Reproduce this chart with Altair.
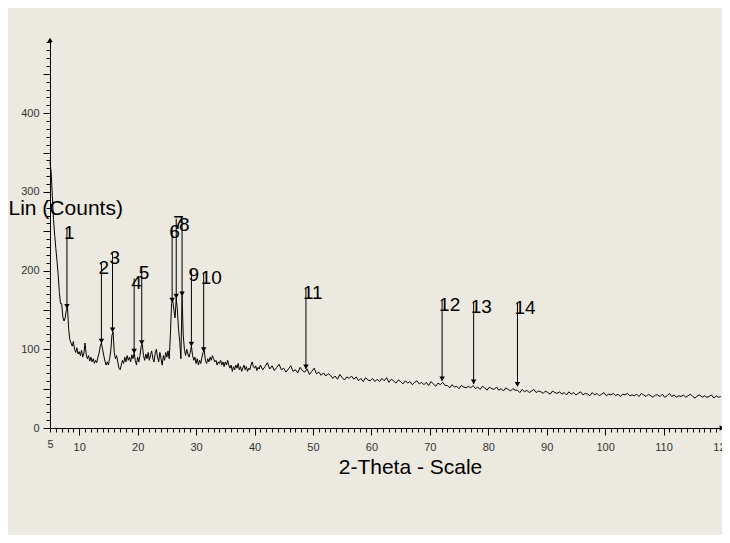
import altair as alt
import pandas as pd

# ---- diffractogram, first part: 2-theta from 5.0 deg, step 0.2 deg ----
scan_a_start = 5.0
scan_a_step = 0.2
counts_a = [
    338, 325, 295, 265, 245, 228, 212, 195, 172, 158,   # 5.0
    158, 141, 136, 140, 150, 153, 125, 112, 108, 104,   # 7.0
    110, 100, 96, 102, 94, 97, 92, 99, 90, 95,          # 9.0
    108, 93, 88, 92, 85, 90, 84, 88, 82, 86,            # 11.0
    83, 90, 95, 104, 108, 100, 92, 85, 80, 84,          # 13.0
    80, 88, 98, 118, 122, 96, 88, 92, 84, 76,           # 15.0
    74, 80, 86, 82, 90, 84, 92, 86, 90, 84,             # 17.0
    93, 88, 95, 86, 80, 90, 84, 92, 104, 106,           # 19.0
    92, 86, 94, 88, 96, 86, 93, 98, 88, 84,             # 21.0
    95, 100, 90, 84, 96, 88, 80, 92, 86, 96,            # 23.0
    90, 98, 88, 118, 158, 162, 150, 140, 165, 150,      # 25.0
    125, 110, 88, 168, 118, 100, 92, 100, 94, 90,       # 27.0
    96, 104, 92, 86, 90, 82, 88, 80, 86, 82,            # 29.0
    90, 96, 98, 86, 82, 88, 84, 90, 86, 92,             # 31.0
    88, 84, 86, 80, 84, 82, 86, 80, 84, 78,             # 33.0
    84, 80, 86, 80, 76, 80, 72, 78, 74, 80,             # 35.0
    76, 82, 74, 78, 72, 76, 80, 74, 78, 72,             # 37.0
    76, 74, 80, 84, 78, 76, 79, 73, 77, 75,             # 39.0
]

# ---- second part: 2-theta from 41.0 deg, step 0.4 deg ----
scan_b_start = 41.0
scan_b_step = 0.4
counts_b = [
    80, 74, 78, 83, 75, 79, 73, 77, 81, 74,   # 41
    76, 71, 75, 79, 72, 74, 70, 77, 73, 71,   # 45
    75, 68, 72, 76, 69, 71, 67, 70, 66, 69,   # 49
    67, 63, 66, 62, 68, 64, 61, 65, 63, 66,   # 53
    62, 65, 60, 63, 59, 64, 61, 60, 63, 59,   # 57
    62, 59, 63, 60, 64, 58, 62, 60, 57, 61,   # 61
    59, 56, 60, 57, 59, 55, 58, 60, 56, 58,   # 65
    55, 58, 54, 59, 56, 53, 57, 55, 58, 54,   # 69
    54, 51, 55, 52, 53, 50, 54, 52, 51, 53,   # 73
    51, 54, 50, 52, 49, 53, 51, 48, 52, 50,   # 77
    49, 52, 48, 50, 47, 51, 49, 47, 50, 48,   # 81
    48, 45, 49, 46, 48, 45, 47, 49, 45, 47,   # 85
    46, 44, 47, 45, 43, 47, 45, 44, 46, 43,   # 89
    45, 42, 46, 43, 45, 42, 44, 46, 42, 44,   # 93
    43, 41, 45, 42, 44, 41, 43, 45, 41, 43,   # 97
    42, 44, 41, 43, 40, 43, 42, 44, 41, 42,   # 101
    41, 43, 40, 44, 42, 40, 43, 41, 39, 42,   # 105
    42, 40, 43, 39, 41, 44, 40, 42, 39, 41,   # 109
    40, 42, 39, 41, 43, 40, 38, 41, 42, 39,   # 113
    41, 39, 40, 42, 38, 41, 39, 40, 41, 39,   # 117
]

# ---- peak markers ----
peak_ids = ["1", "2", "3", "4", "5", "6", "7", "8", "9", "10", "11", "12", "13", "14"]
peak_theta = [7.9, 13.8, 15.7, 19.4, 20.7, 25.9, 26.6, 27.6, 29.2, 31.3, 48.8, 72.1, 77.5, 85.0]
peak_tip = [152, 108, 122, 95, 106, 160, 165, 168, 104, 97, 75, 60, 56, 53]
peak_label = [248, 203, 216, 184, 197, 249, 260, 258, 194, 190, 171, 156, 154, 152]

# ---- axes ----
x_domain = [5, 120]
y_domain = [0, 493]
x_ticks = list(range(5, 121))
y_ticks = list(range(0, 491, 10))

FONT = "Liberation Sans"

rows = []
for i, c in enumerate(counts_a):
    rows.append({"theta": round(scan_a_start + scan_a_step * i, 2), "counts": c})
for i, c in enumerate(counts_b):
    t = round(scan_b_start + scan_b_step * i, 2)
    if t <= 120:
        rows.append({"theta": t, "counts": c})
scan = pd.DataFrame(rows)

peaks = pd.DataFrame({
    "id": peak_ids,
    "theta": peak_theta,
    "tip": peak_tip,
    "counts": peak_label,
})
peaks["top"] = peaks["counts"] + 6

ends = pd.DataFrame({
    "theta": [x_domain[0], x_domain[1]],
    "counts": [y_domain[1], y_domain[0]],
    "shape": ["triangle-up", "triangle-right"],
})

xs = alt.Scale(domain=x_domain, nice=False, zero=False)
ys = alt.Scale(domain=y_domain, nice=False, zero=False)

x_axis = alt.Axis(
    values=x_ticks,
    labelExpr="(datum.value % 10 === 0 || datum.value === 5) ? datum.label : ''",
    tickSize={"condition": {"test": "datum.value % 10 === 0", "value": 7}, "value": 4},
    labelFlush=False, labelOverlap=False, labelPadding=6,
    labelFont=FONT, labelFontSize=11, labelColor="#333333",
    tickColor="black", domainColor="black", grid=False,
    title="2-Theta - Scale", titleFont=FONT, titleFontSize=21,
    titleFontWeight="normal", titleColor="black",
    titleX=360, titleY=39, titleAlign="center", titleBaseline="middle",
)
y_axis = alt.Axis(
    values=y_ticks,
    labelExpr="datum.value % 100 === 0 ? datum.label : ''",
    tickSize={"condition": {"test": "datum.value % 50 === 0", "value": 7}, "value": 4},
    labelFlush=False, labelOverlap=False, labelPadding=4,
    labelFont=FONT, labelFontSize=11, labelColor="#333333",
    tickColor="black", domainColor="black", grid=False,
    title="Lin (Counts)", titleFont=FONT, titleFontSize=21,
    titleFontWeight="normal", titleColor="black", titleAngle=0,
    titleX=-42, titleY=168, titleAlign="left", titleBaseline="middle",
)

X = alt.X("theta:Q", scale=xs, axis=x_axis)

line = alt.Chart(scan).mark_line(color="black", strokeWidth=1).encode(
    x=X,
    y=alt.Y("counts:Q", scale=ys, axis=y_axis),
)

rules = alt.Chart(peaks).mark_rule(color="black", strokeWidth=1).encode(
    x=X,
    y=alt.Y("top:Q", scale=ys, axis=y_axis),
    y2="tip:Q",
)

heads = alt.Chart(peaks).mark_point(
    shape="triangle-down", filled=True, color="black", size=30, opacity=1
).encode(
    x=X,
    y=alt.Y("tip:Q", scale=ys, axis=y_axis),
    yOffset=alt.value(-2),
)

labels = alt.Chart(peaks).mark_text(
    align="left", baseline="middle", dx=-3, font=FONT, fontSize=19, color="black"
).encode(
    x=X,
    y=alt.Y("counts:Q", scale=ys, axis=y_axis),
    text="id:N",
)

axis_ends = alt.Chart(ends).mark_point(filled=True, color="black", size=30, opacity=1).encode(
    x=X,
    y=alt.Y("counts:Q", scale=ys, axis=y_axis),
    shape=alt.Shape("shape:N", scale=None),
)

chart = alt.layer(line, rules, heads, labels, axis_ends).properties(
    width=672,
    height=388,
    background="#ECE9E0",
    padding={"left": 42, "top": 32, "right": 0, "bottom": 107},
    autosize=alt.AutoSizeParams(type="none"),
).configure_view(stroke=None)

chart.save("out.html", embed_options={"renderer": "svg", "actions": False})
